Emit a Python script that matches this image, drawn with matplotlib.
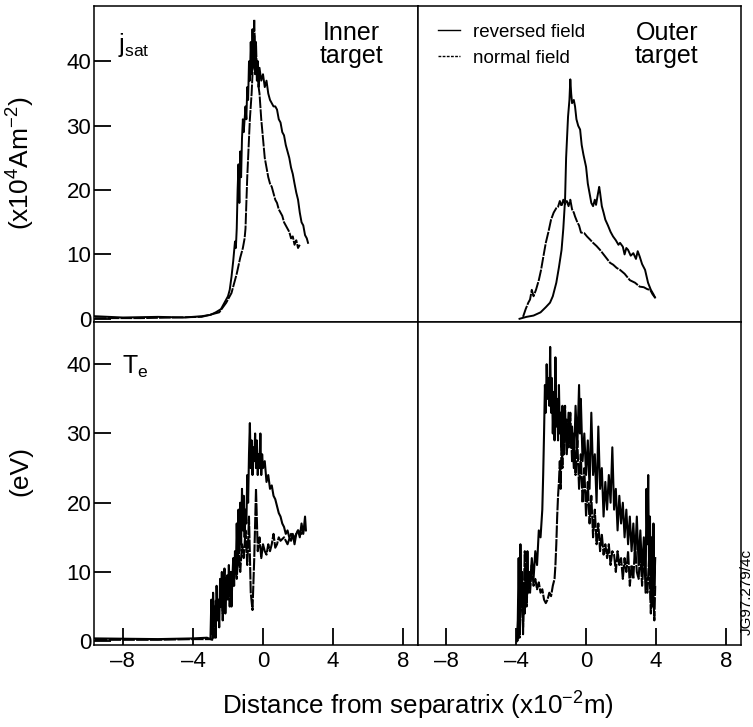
import matplotlib
matplotlib.use("Agg")
import matplotlib.pyplot as plt
from matplotlib.lines import Line2D

plt.rcParams['font.family'] = ['Liberation Sans', 'DejaVu Sans']

# ---------------- data (distance in 1e-2 m) ----------------
# Inner target, ion saturation current (x1e4 A m^-2)
jin_rev_x = [-9.6, -8, -6, -4.5, -3.5, -3.0, -2.7, -2.4, -2.2, -2.0, -1.9, -1.8, -1.7, -1.6, -1.55,
             -1.5, -1.45, -1.4, -1.35, -1.3, -1.25, -1.2, -1.15, -1.1, -1.0, -0.95, -0.9, -0.85, -0.8,
             -0.75, -0.7, -0.65, -0.6, -0.55, -0.5, -0.45, -0.4, -0.35, -0.3, -0.25, -0.2, -0.1, 0.0,
             0.1, 0.2, 0.3, 0.4, 0.5, 0.6, 0.7, 0.8, 0.9, 1.0, 1.1, 1.2, 1.3, 1.4, 1.5, 1.6, 1.7, 1.8,
             1.9, 2.0, 2.1, 2.2, 2.3, 2.4, 2.5, 2.57]
jin_rev_y = [0.4, 0.2, 0.3, 0.2, 0.4, 0.6, 1.0, 1.5, 2.5, 3.5, 4.5, 6.5, 9, 12, 11,
             14, 20, 24, 18, 26, 22, 28, 31, 29, 33, 31, 36, 34, 40,
             37, 43, 38, 45, 39, 44, 38, 41, 37, 40, 36, 39, 37, 38,
             36, 37, 35, 34, 33.5, 33, 33, 32.5, 31, 30.5, 29, 28.5, 27, 26, 25, 23.5, 22.5, 21,
             19.6, 18.5, 16.5, 15, 14.5, 13, 12.5, 11.8]

jin_norm_x = [-9.6, -7, -5, -3.5, -2.5, -2.1, -1.8, -1.5, -1.3, -1.15, -1.05, -1.0, -0.95, -0.9,
              -0.85, -0.8, -0.75, -0.7, -0.65, -0.6, -0.55, -0.5, -0.45, -0.4, -0.35, -0.3, -0.25,
              -0.2, -0.1, 0.0, 0.1, 0.2, 0.3, 0.4, 0.5, 0.6, 0.7, 0.8, 0.9, 1.0, 1.1, 1.2, 1.3, 1.4,
              1.5, 1.6, 1.7, 1.8, 1.9, 2.0, 2.1]
jin_norm_y = [0.1, 0.1, 0.2, 0.3, 1.0, 2.5, 4, 7, 9.5, 11, 12.5, 14, 18, 22,
              25, 28, 31, 33, 35, 38, 42, 46.5, 41, 43, 38, 40, 36,
              35, 31, 28, 25, 23.5, 22, 21, 20.5, 19.5, 18.5, 18, 17, 16.5, 16, 15, 14.5, 14,
              13.5, 12.5, 12.8, 11.5, 12.2, 11, 11.5]

# Outer target, ion saturation current
jout_rev_x = [-3.8, -3.4, -3.0, -2.6, -2.3, -2.06, -1.9, -1.7, -1.55, -1.4, -1.3, -1.2, -1.14, -1.03,
              -0.95, -0.9, -0.85, -0.8, -0.7, -0.63, -0.55, -0.45, -0.34, -0.25, -0.15, 0.0, 0.1,
              0.2, 0.3, 0.4, 0.5, 0.57, 0.65, 0.75, 0.8, 0.9, 1.0, 1.1, 1.25, 1.4, 1.54, 1.7, 1.85,
              1.94, 2.1, 2.2, 2.3, 2.4, 2.55, 2.7, 2.85, 2.95, 3.06, 3.2, 3.37, 3.54, 3.7, 3.85, 3.94]
jout_rev_y = [0.0, 0.3, 0.5, 1.0, 1.8, 2.5, 3.5, 5.6, 8, 10.7, 14, 18.5, 25, 31.4,
              34, 37.2, 35, 33.5, 34, 33, 31, 30, 29.4, 27, 25.5, 23.6, 21,
              19.5, 18, 17.5, 18.5, 17.7, 19, 20.5, 19.6, 17.5, 16.5, 15.4, 14.5, 13.5, 12.8, 12.2, 11.5,
              11.8, 11.2, 10, 11, 10.7, 9.8, 10.2, 9.3, 10.5, 9.7, 8.5, 7.6, 5.6, 4.5, 3.8, 3.3]

jout_norm_x = [-3.6, -3.45, -3.3, -3.2, -3.1, -3.0, -2.86, -2.7, -2.57, -2.45, -2.3, -2.15, -2.0,
               -1.85, -1.7, -1.6, -1.5, -1.4, -1.3, -1.2, -1.1, -1.0, -0.9, -0.8, -0.7, -0.63, -0.5,
               -0.4, -0.29, -0.1, 0.05, 0.23, 0.4, 0.6, 0.8, 1.0, 1.2, 1.37, 1.55, 1.75, 1.94, 2.2,
               2.5, 2.8, 3.06, 3.3, 3.5, 3.66, 3.8, 3.94]
jout_norm_y = [0.3, 1.5, 2.5, 3.0, 4.5, 3.5, 4.5, 6, 7.6, 9.5, 11.8, 13.5, 15.4,
               16.5, 17.2, 17.4, 18.3, 17.5, 18.5, 17.8, 18.3, 17.5, 18.5, 17.0, 16.5, 15.9, 15,
               14.5, 13.4, 13.3, 12.8, 12.3, 11.8, 11.3, 10.7, 10, 9.3, 8.7, 8.4, 7.9, 7.6, 7,
               6, 5.6, 5, 4.9, 4.6, 4.5, 3.8, 3.3]

# Inner target, electron temperature (eV)
tin_rev_x = [-9.6, -6, -4, -3.2, -3.0, -2.95, -2.9, -2.85, -2.8, -2.75, -2.7, -2.65, -2.6, -2.55,
             -2.5, -2.45, -2.4, -2.35, -2.3, -2.25, -2.2, -2.15, -2.1, -2.05, -2.0, -1.95, -1.9,
             -1.85, -1.8, -1.75, -1.7, -1.65, -1.6, -1.55, -1.5, -1.45, -1.4, -1.35, -1.3, -1.25,
             -1.2, -1.15, -1.1, -1.05, -1.0, -0.95, -0.9, -0.85, -0.8, -0.75, -0.7, -0.65, -0.6,
             -0.55, -0.5, -0.45, -0.4, -0.35, -0.3, -0.25, -0.2, -0.15, -0.1, -0.05, 0.0, 0.1, 0.2,
             0.3, 0.4, 0.5, 0.6, 0.7, 0.8, 0.9, 1.0, 1.1, 1.2, 1.3, 1.4, 1.5, 1.6, 1.7, 1.8, 1.9,
             2.0, 2.1, 2.2, 2.3, 2.4, 2.45]
tin_rev_y = [0.4, 0.3, 0.4, 0.5, 0.3, 6, 1, 7, 3, 5, 0.5, 8, 4, 6,
             2, 9, 5, 10, 3, 7, 10.5, 4, 8, 9.5, 6, 11, 7,
             10, 5, 9, 12, 8, 13, 10, 17, 11, 19, 13, 20, 14,
             22, 16, 21, 15, 19, 17, 24, 20, 27, 31.5, 25, 29, 24,
             28, 26, 30, 25, 29, 24, 27, 25, 30, 24, 27, 25, 26, 23,
             24, 22, 22.5, 21, 20.5, 19.5, 18.5, 18, 17, 16.5, 15.5, 16, 15, 14.5, 15.5, 14, 15.5,
             16, 15, 17, 15.5, 18, 16]

tin_norm_x = [-9.6, -6, -4, -3.0, -2.9, -2.85, -2.8, -2.7, -2.6, -2.5, -2.4, -2.3, -2.2, -2.1,
              -2.0, -1.9, -1.8, -1.7, -1.6, -1.5, -1.4, -1.3, -1.2, -1.1, -1.0, -0.9, -0.8, -0.7,
              -0.6, -0.5, -0.4, -0.3, -0.2, -0.1, 0.0, 0.1, 0.2, 0.3, 0.4, 0.5, 0.6, 0.7, 0.8, 0.9,
              1.0, 1.2, 1.4, 1.6, 1.8, 2.0, 2.2, 2.4]
tin_norm_y = [0.2, 0.2, 0.3, 0.3, 0.2, 4, 0.5, 6, 3, 5, 7, 4, 8, 6,
              9, 5, 10, 8, 11, 9, 13, 10, 14, 12, 16, 11, 18, 7,
              4.5, 12, 22, 13, 15, 12, 14, 13, 12.5, 14, 13, 14, 15.5, 13.5, 14, 15,
              14.5, 15, 14, 15.5, 15, 16, 15.5, 16.5]

# Outer target, electron temperature (eV)
tout_rev_x = [-3.95, -3.9, -3.85, -3.8, -3.75, -3.7, -3.65, -3.6, -3.55, -3.5, -3.45, -3.4, -3.35,
              -3.3, -3.25, -3.2, -3.1, -3.0, -2.9, -2.8, -2.7, -2.6, -2.5, -2.45, -2.4, -2.35, -2.3,
              -2.25, -2.2, -2.15, -2.1, -2.05, -2.0, -1.95, -1.9, -1.85, -1.8, -1.75, -1.7, -1.65,
              -1.6, -1.55, -1.5, -1.45, -1.4, -1.35, -1.3, -1.2, -1.1, -1.0, -0.9, -0.8, -0.7, -0.6,
              -0.5, -0.4, -0.35, -0.3, -0.2, -0.1, 0.0, 0.1, 0.2, 0.3, 0.4, 0.5, 0.6, 0.7, 0.8, 0.9,
              1.0, 1.1, 1.2, 1.3, 1.4, 1.5, 1.6, 1.7, 1.8, 1.9, 2.0, 2.1, 2.2, 2.3, 2.4, 2.5, 2.6,
              2.7, 2.8, 2.9, 3.0, 3.1, 3.2, 3.3, 3.4, 3.45, 3.5, 3.55, 3.6, 3.65, 3.7, 3.75, 3.8,
              3.85, 3.9, 3.95]
tout_rev_y = [0, 3, 12, 2, 14, 5, 10, 1, 8, 4, 11, 6, 13,
              7, 10, 8, 12, 9, 13, 11, 16, 15, 19, 24, 30, 37, 33,
              40, 35, 38, 34, 42.5, 33, 38, 30, 36, 29, 41, 31, 35,
              29, 37, 30, 33, 28, 34, 30, 32, 27, 33, 28, 31, 25, 34,
              28, 37, 30, 35, 26, 30, 24, 29, 22, 33, 24, 27, 20, 31, 22, 25,
              18, 23, 19, 24, 20, 28, 19, 22, 16, 21, 17, 20, 15, 19, 14, 18, 13,
              17, 12, 18, 11, 16, 10, 15, 7, 22, 14, 24, 10, 18, 6, 15, 5,
              17, 8, 12]

tout_norm_x = [-3.9, -3.85, -3.8, -3.7, -3.6, -3.5, -3.4, -3.3, -3.2, -3.1, -3.0, -2.9, -2.8, -2.7,
               -2.6, -2.5, -2.4, -2.3, -2.2, -2.1, -2.0, -1.9, -1.8, -1.75, -1.7, -1.65, -1.6,
               -1.55, -1.5, -1.45, -1.4, -1.35, -1.3, -1.25, -1.2, -1.15, -1.1, -1.0, -0.9, -0.8,
               -0.7, -0.6, -0.5, -0.4, -0.3, -0.2, -0.1, 0.0, 0.1, 0.2, 0.3, 0.4, 0.5, 0.6, 0.7,
               0.8, 0.9, 1.0, 1.1, 1.2, 1.3, 1.4, 1.5, 1.6, 1.7, 1.8, 1.9, 2.0, 2.1, 2.2, 2.3, 2.4,
               2.5, 2.6, 2.7, 2.8, 2.9, 3.0, 3.1, 3.2, 3.3, 3.4, 3.5, 3.6, 3.7, 3.8, 3.9, 3.95]
tout_norm_y = [0, 6, 0.5, 9, 2, 13, 5, 10, 7, 11, 8, 9, 7.5, 8.5,
               7, 7.5, 6, 5.5, 6, 7, 6.5, 8, 9, 11, 14, 18, 21,
               23, 26, 22, 29, 25, 31, 27, 34, 29, 32, 28, 33, 26,
               30, 24, 29, 22, 27, 20, 25, 18, 23, 17, 21, 15, 19, 14, 17,
               13, 15.5, 12.5, 14, 12, 14, 11, 13, 12.5, 10, 13, 11, 12, 9, 12, 10, 13,
               8, 11, 9, 14, 10, 9, 13, 8, 12, 10, 7, 12, 4, 10, 3, 8]

x_ticks = [-8, -4, 0, 4, 8]
x_ticklabels = ['\u20138', '\u20134', '0', '4', '8']
y_ticks = [0, 10, 20, 30, 40]

# ---------------- figure layout ----------------
W, H = 753, 727
fig = plt.figure(figsize=(W / 100, H / 100), dpi=100)

x0, xm, x1 = 94 / W, 418 / W, 741 / W
y_top, y_mid, y_bot = 1 - 6 / H, 1 - 322 / H, 1 - 645 / H

ax_tl = fig.add_axes([x0, y_mid, xm - x0, y_top - y_mid])
ax_tr = fig.add_axes([xm, y_mid, x1 - xm, y_top - y_mid])
ax_bl = fig.add_axes([x0, y_bot, xm - x0, y_mid - y_bot])
ax_br = fig.add_axes([xm, y_bot, x1 - xm, y_mid - y_bot])

lw_j = 1.4
lw_t = 1.5
dash = (0, (6, 0.6))
tick_fs = 16

for ax in (ax_tl, ax_tr, ax_bl, ax_br):
    for s in ax.spines.values():
        s.set_linewidth(1.1)
    ax.tick_params(direction='in', length=12, width=1.3, labelsize=tick_fs,
                   top=False, right=False, left=False, bottom=False,
                   labelleft=False, labelbottom=False)

ax_tl.set_xlim(-9.65, 8.85)
ax_tr.set_xlim(-9.6, 8.85)
ax_bl.set_xlim(-9.65, 8.85)
ax_br.set_xlim(-9.6, 8.85)
ax_tl.set_ylim(-0.5, 48.6)
ax_tr.set_ylim(-0.5, 48.6)
ax_bl.set_ylim(-0.55, 46.1)
ax_br.set_ylim(-0.55, 46.1)

# y ticks on the left-hand panels
for ax in (ax_tl, ax_bl):
    ax.set_yticks(y_ticks)
    ax.tick_params(axis='y', left=True, labelleft=True, pad=2)
# x ticks on the lower panels
for ax in (ax_bl, ax_br):
    ax.set_xticks(x_ticks)
    ax.set_xticklabels(x_ticklabels)
    ax.tick_params(axis='x', bottom=True, labelbottom=True, pad=4)
ax_tl.set_xticks([])
ax_tr.set_xticks([])
ax_tr.set_yticks([])
ax_br.set_yticks([])

# curves
ax_tl.plot(jin_rev_x, jin_rev_y, color='black', lw=lw_j)
ax_tl.plot(jin_norm_x, jin_norm_y, color='black', lw=lw_j, linestyle=dash)
ax_tr.plot(jout_rev_x, jout_rev_y, color='black', lw=lw_j)
ax_tr.plot(jout_norm_x, jout_norm_y, color='black', lw=lw_j, linestyle=dash)
ax_bl.plot(tin_rev_x, tin_rev_y, color='black', lw=lw_t)
ax_bl.plot(tin_norm_x, tin_norm_y, color='black', lw=lw_t, linestyle=dash)
ax_br.plot(tout_rev_x, tout_rev_y, color='black', lw=lw_t)
ax_br.plot(tout_norm_x, tout_norm_y, color='black', lw=lw_t, linestyle=dash)

# legend
leg_handles = [Line2D([], [], color='black', lw=1.0),
               Line2D([], [], color='black', lw=1.0, linestyle=(0, (2, 1)))]
ax_tr.legend(leg_handles, ['reversed field', 'normal field'], loc='upper left',
             bbox_to_anchor=(0.02, 0.985), frameon=False, fontsize=13.5,
             handlelength=1.2, handletextpad=0.7, labelspacing=0.45, borderaxespad=0.3)

# panel annotations
ax_tl.text(0.074, 0.878, r'j$_{\mathregular{sat}}$', transform=ax_tl.transAxes,
           fontsize=18, ha='left', va='center')
ax_tl.text(0.795, 0.878, 'Inner\ntarget', transform=ax_tl.transAxes,
           fontsize=18, ha='center', va='center', linespacing=0.95)
ax_tr.text(0.77, 0.878, 'Outer\ntarget', transform=ax_tr.transAxes,
           fontsize=18, ha='center', va='center', linespacing=0.95)
ax_bl.text(0.085, 0.862, r'T$_{\mathregular{e}}$', transform=ax_bl.transAxes,
           fontsize=18, ha='left', va='center')

# axis labels
fig.text(20 / W, 1 - 163 / H, r'(x10$^{\mathregular{4}}$Am$^{\mathregular{-2}}$)', rotation=90,
         fontsize=19, ha='center', va='center')
fig.text(20 / W, 1 - 471 / H, '(eV)', rotation=90, fontsize=19, ha='center', va='center')
fig.text(418 / W, 1 - 705 / H, 'Distance from separatrix (x10$^{\\mathregular{-2}}$m)',
         fontsize=18.7, ha='center', va='center')
fig.text(747 / W, 1 - 592 / H, 'JG97.279/4c', rotation=90, fontsize=11,
         ha='center', va='center')

fig.savefig('out.png', dpi=100)
